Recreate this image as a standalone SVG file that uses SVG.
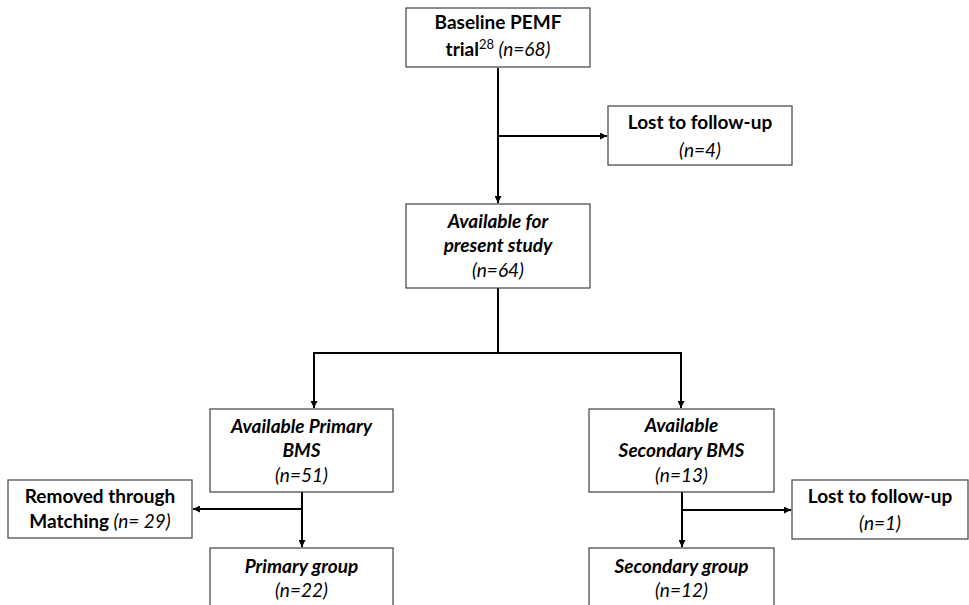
<svg xmlns="http://www.w3.org/2000/svg" width="969" height="605" viewBox="0 0 969 605">
<defs>
<style>
.box{fill:#fff;stroke:#404040;stroke-width:1.2}
.t{font-family:Lato,"Open Sans","Liberation Sans",sans-serif;font-size:19px;fill:#000;text-anchor:middle}
.b{font-weight:bold}
.i{font-style:italic}
.c{fill:none;stroke:#000;stroke-width:2}
</style>
<marker id="ah" viewBox="0 0 10 10" refX="10" refY="5" markerWidth="7" markerHeight="7" orient="auto" markerUnits="userSpaceOnUse">
<path d="M0,0 L10,5 L0,10 z" fill="#000"/>
</marker>
</defs>
<rect width="969" height="605" fill="#fff"/>
<g id="connectors">
<path class="c" d="M498,68 V203" marker-end="url(#ah)"/>
<path class="c" d="M498,136 H607" marker-end="url(#ah)"/>
<path class="c" d="M498,288 V353"/>
<path class="c" d="M314,353 H681"/>
<path class="c" d="M314,352 V408" marker-end="url(#ah)"/>
<path class="c" d="M681,352 V408" marker-end="url(#ah)"/>
<path class="c" d="M302,492 V547" marker-end="url(#ah)"/>
<path class="c" d="M302,509 H193" marker-end="url(#ah)"/>
<path class="c" d="M682,492 V547" marker-end="url(#ah)"/>
<path class="c" d="M682,510 H791" marker-end="url(#ah)"/>
</g>
<g id="baseline">
<rect class="box" x="406" y="8" width="184" height="59"/>
<text class="t b" x="498" y="29">Baseline PEMF</text>
<text class="t" x="498" y="56"><tspan class="b">trial</tspan><tspan font-size="13" dy="-7">28</tspan><tspan class="i" dy="7"> (n=68)</tspan></text>
</g>
<g id="lost1">
<rect class="box" x="608" y="106" width="184" height="59"/>
<text class="t b" x="700" y="129">Lost to follow-up</text>
<text class="t i" x="700" y="157">(n=4)</text>
</g>
<g id="available">
<rect class="box" x="406" y="204" width="184" height="84"/>
<text class="t b i" x="498" y="228">Available for</text>
<text class="t b i" x="498" y="252">present study</text>
<text class="t i" x="498" y="277">(n=64)</text>
</g>
<g id="primaryBMS">
<rect class="box" x="210" y="409" width="183" height="83"/>
<text class="t b i" x="301.5" y="433">Available Primary</text>
<text class="t b i" x="301.5" y="457">BMS</text>
<text class="t i" x="301.5" y="482">(n=51)</text>
</g>
<g id="secondaryBMS">
<rect class="box" x="589" y="409" width="185" height="83"/>
<text class="t b i" x="681.5" y="432">Available</text>
<text class="t b i" x="681.5" y="457">Secondary BMS</text>
<text class="t i" x="681.5" y="482">(n=13)</text>
</g>
<g id="removed">
<rect class="box" x="8" y="480" width="184" height="58"/>
<text class="t b" x="100" y="503">Removed through</text>
<text class="t" x="100" y="528"><tspan class="b">Matching</tspan><tspan class="i"> (n= 29)</tspan></text>
</g>
<g id="lost2">
<rect class="box" x="792" y="480" width="176" height="59"/>
<text class="t b" x="880" y="503">Lost to follow-up</text>
<text class="t i" x="880" y="530">(n=1)</text>
</g>
<g id="primaryGroup">
<rect class="box" x="210" y="548" width="183" height="70"/>
<text class="t b i" x="301.5" y="573">Primary group</text>
<text class="t i" x="301.5" y="597">(n=22)</text>
</g>
<g id="secondaryGroup">
<rect class="box" x="589" y="548" width="185" height="70"/>
<text class="t b i" x="681.5" y="573">Secondary group</text>
<text class="t i" x="681.5" y="597">(n=12)</text>
</g>
</svg>
